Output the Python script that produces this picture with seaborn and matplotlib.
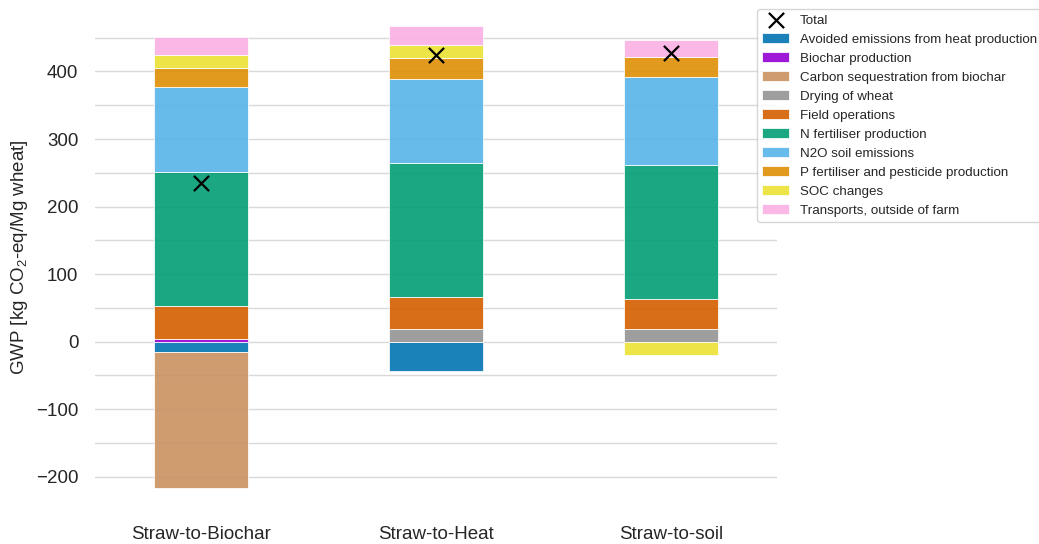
import numpy as np
import matplotlib
matplotlib.use("Agg")
import matplotlib.pyplot as plt
from matplotlib.ticker import MultipleLocator
import seaborn as sns

# Scenarios on the x axis
scenarios = ["Straw-to-Biochar", "Straw-to-Heat", "Straw-to-soil"]

# GWP contributions per scenario [kg CO2-eq / Mg wheat]
avoided_heat = [-16.0, -43.0, 0.0]
biochar_production = [4.5, 0.0, 0.0]
carbon_sequestration = [-200.0, 0.0, 0.0]
drying_of_wheat = [0.0, 18.8, 18.8]
field_operations = [48.8, 47.8, 44.4]
n_fertiliser = [198.2, 197.3, 198.2]
n2o_soil = [125.7, 125.7, 131.0]
p_fertiliser_pesticide = [28.7, 30.5, 28.6]
soc_changes = [19.2, 18.8, -19.7]
transports = [26.1, 28.1, 26.3]

component_names = [
    "Avoided emissions from heat production",
    "Biochar production",
    "Carbon sequestration from biochar",
    "Drying of wheat",
    "Field operations",
    "N fertiliser production",
    "N2O soil emissions",
    "P fertiliser and pesticide production",
    "SOC changes",
    "Transports, outside of farm",
]
component_values = [
    avoided_heat, biochar_production, carbon_sequestration, drying_of_wheat,
    field_operations, n_fertiliser, n2o_soil, p_fertiliser_pesticide,
    soc_changes, transports,
]
component_colors = [
    "#0173B2", "darkviolet", "#CA9161", "#949494", "#D55E00",
    "#029E73", "#56B4E9", "#DE8F05", "#ECE133", "#FBAFE4",
]

sns.set_theme(style="whitegrid")
plt.rcParams["font.family"] = ["Liberation Sans", "DejaVu Sans"]
plt.rcParams["mathtext.fontset"] = "custom"
plt.rcParams["mathtext.rm"] = "Liberation Sans"
plt.rcParams["mathtext.it"] = "Liberation Sans:italic"

W, H = 1039, 544
fig = plt.figure(figsize=(W / 100, H / 100), dpi=100)
ax = fig.add_axes([95 / W, 1 - 503.8 / H, 682 / W, (503.8 - 10.7) / H])

# Stack positive and negative contributions separately
pos_base = np.zeros(len(scenarios))
neg_base = np.zeros(len(scenarios))
for name, vals, col in zip(component_names, component_values, component_colors):
    vals = np.asarray(vals, dtype=float)
    bottoms = np.where(vals >= 0, pos_base, neg_base)
    sns.barplot(x=scenarios, y=vals, bottom=bottoms, color=col, saturation=1,
                alpha=0.9, width=0.4, errorbar=None, label=name,
                edgecolor="white", linewidth=0.6, ax=ax)
    pos_base += np.clip(vals, 0, None)
    neg_base += np.clip(vals, None, 0)

totals = np.sum(np.asarray(component_values, dtype=float), axis=0)
sns.scatterplot(x=np.arange(len(scenarios)), y=totals, marker="x", color="black",
                s=120, linewidth=1.6, label="Total", ax=ax, zorder=5)

ax.set_xlim(-0.45, 2.45)
ax.set_ylim(-240, 490)
ax.set_xticks(range(len(scenarios)), scenarios)
ax.yaxis.set_major_locator(MultipleLocator(100))
ax.yaxis.set_minor_locator(MultipleLocator(50))
ax.grid(axis="x", visible=False)
ax.grid(axis="y", which="both", color="0.85", linewidth=1.0)
ax.set_axisbelow(True)
for sp in ax.spines.values():
    sp.set_visible(False)
ax.tick_params(axis="x", labelsize=13.5, pad=16, length=0, colors="#262626")
ax.tick_params(axis="y", labelsize=13.5, pad=12, length=0, colors="#262626")
ax.tick_params(axis="y", which="minor", length=0)
ax.set_xlabel("")
ax.set_ylabel(r"GWP [kg $\mathrm{CO_2}$-eq/Mg wheat]", fontsize=13.5,
              labelpad=4, color="#262626")

handles, labels = ax.get_legend_handles_labels()
idx = labels.index("Total")
order = [idx] + [i for i in range(len(labels)) if i != idx]
ax.legend([handles[i] for i in order], [labels[i] for i in order],
          loc="upper left", bbox_to_anchor=(757 / W, 1 - 9 / H),
          bbox_transform=fig.transFigure, borderaxespad=0, fontsize=9.6,
          frameon=True)

fig.savefig("out.png", dpi=100)
